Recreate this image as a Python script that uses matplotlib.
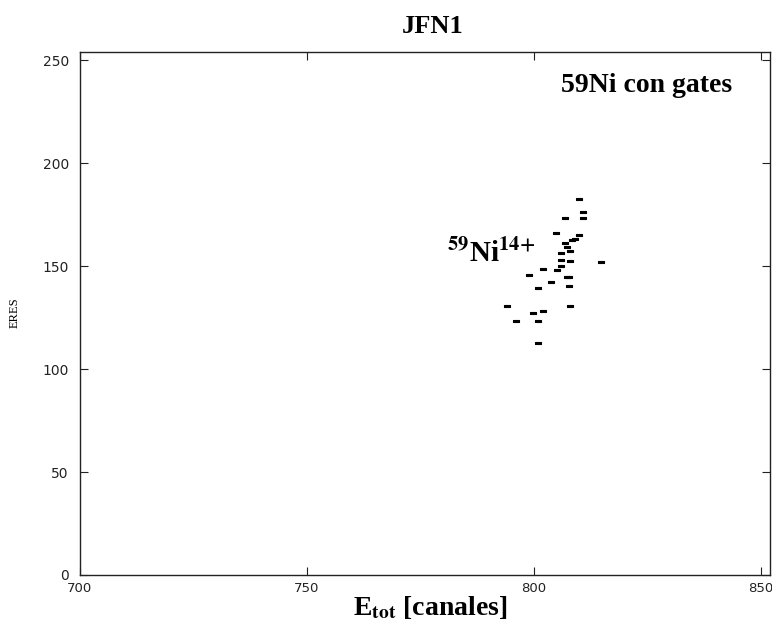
"""Espectro ERES vs E_tot para 59Ni con gates (JFN1)"""

import matplotlib
matplotlib.use("Agg")
import matplotlib.pyplot as plt

# Datos
e_tot = [809.9, 810.9, 810.9, 806.9, 805.0, 809.9, 809.1, 808.4, 806.9, 807.4,
         808.0, 806.0, 806.0, 808.0, 814.9, 806.0, 805.1, 802.1, 799.0, 807.4,
         807.8, 803.9, 800.9, 807.8, 794.0, 799.9, 802.1, 808.0, 796.2, 800.9,
         800.9]
eres = [182.4, 176.4, 173.4, 173.4, 165.9, 165.0, 163.1, 162.6, 161.3, 159.4,
        157.4, 156.5, 152.9, 152.6, 151.8, 150.0, 148.1, 148.4, 145.5, 144.7,
        144.7, 142.1, 139.5, 140.4, 130.6, 127.0, 128.3, 130.6, 123.3, 123.3,
        112.8]

x_ticks = [700, 750, 800, 850]
y_ticks = [0, 50, 100, 150, 200, 250]

SERIF = "Liberation Serif"
plt.rcParams["mathtext.fontset"] = "stix"

fig = plt.figure(figsize=(7.72, 6.26), dpi=100)
ax = fig.add_axes([0.1036, 0.0815, 0.8934, 0.8355])

# Marcador rectangular (más ancho que alto)
rect = [(-1, -0.5), (1, -0.5), (1, 0.5), (-1, 0.5), (-1, -0.5)]
ax.plot(e_tot, eres, linestyle="none", marker=rect, markersize=4.2,
        color="black", markeredgecolor="black", markeredgewidth=0.8)

ax.set_xlim(700, 852)
ax.set_ylim(0, 254)
ax.set_xticks(x_ticks)
ax.set_yticks(y_ticks)
ax.tick_params(direction="in", length=6, width=0.8, top=True, right=True,
               labelsize=10, colors="#222222")
ax.tick_params(axis="y", pad=8)
ax.tick_params(axis="x", pad=5, labelsize=9.5)
for s in ax.spines.values():
    s.set_linewidth(1.0)
    s.set_color("#222222")

# Títulos y etiquetas
fig.text(0.561, 0.958, "JFN1", family=SERIF, fontsize=19, fontweight="bold",
         ha="center", va="center")
ax.text(0.945, 0.9235, "59Ni con gates", transform=ax.transAxes, family=SERIF,
        fontsize=20, fontweight="bold", ha="right", va="baseline")
ax.text(780.8, 151.9, r"$^{\mathbf{59}}$Ni$^{\mathbf{14{+}}}$", family=SERIF,
        fontsize=21, fontweight="bold", ha="left", va="baseline")

fig.text(0.557, 0.0176, r"E$_{\mathbf{tot}}$ [canales]", family=SERIF,
         fontsize=20, fontweight="bold", ha="center", va="baseline")
fig.text(0.0194, 0.5, "ERES", family=SERIF, fontsize=9, rotation=90,
         ha="center", va="center")

fig.savefig("out.png", dpi=100)
